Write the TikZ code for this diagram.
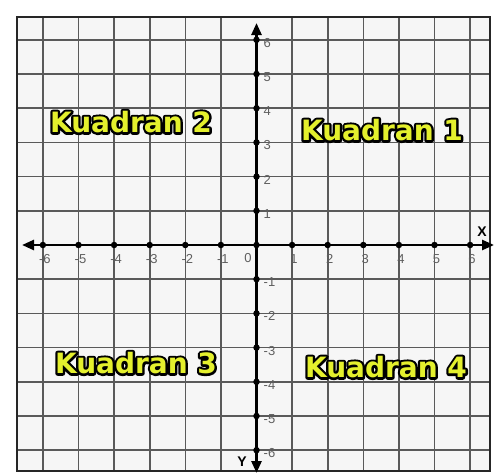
\documentclass[tikz,border=0pt]{standalone}
\usepackage{fontspec}
\setmainfont{Liberation Sans}
\newfontfamily\quadfont{DejaVu Sans}
\usetikzlibrary{arrows.meta}
\definecolor{gridgray}{RGB}{90,90,90}
\definecolor{labelgray}{RGB}{95,95,95}
\definecolor{qyellow}{RGB}{228,240,45}
\definecolor{paper}{RGB}{246,246,246}
\tikzset{
  gridline/.style={draw=gridgray, line width=1.6pt},
  framebox/.style={draw=black!85, line width=2.4pt},
  axisline/.style={draw=black, line width=2.6pt,
    {Triangle[length=12pt,width=10pt]}-{Triangle[length=12pt,width=10pt]}},
  tickdot/.style={circle, fill=black, inner sep=0pt, minimum size=6.5pt},
  numlbl/.style={text=labelgray, font=\fontsize{13}{13}\selectfont, inner sep=0pt},
  axlbl/.style={text=black, font=\bfseries\fontsize{14}{14}\selectfont, inner sep=0pt},
  qtext/.style={font=\quadfont\bfseries\fontsize{28}{28}\selectfont, inner sep=0pt},
}
% black outline underneath (fill + wide stroke), yellow text on top
\newcommand\quadlabel[3]{%
  \node[qtext, text=black] (#1o) at (#2)
    {\special{pdf:literal direct 0 0 0 RG 4.6 w 1 j 2 Tr}#3\special{pdf:literal direct 0 Tr}};
  \node[qtext, text=qyellow] (#1) at (#2) {#3};
}
\begin{document}
\begin{tikzpicture}[x=1pt,y=-1pt]
\useasboundingbox (0,0) rectangle (500,475);
\fill[white] (0,0) rectangle (500,475);
\fill[paper] (17,17) rectangle (490,471);
\def\ox{256.5}\def\ux{35.6}\def\oy{245}\def\uy{34.2}
% grid
\foreach \k in {-6,...,-1,1,2,...,6}{
  \draw[gridline] (\ox+\k*\ux,17) -- (\ox+\k*\ux,471);
  \draw[gridline] (17,\oy+\k*\uy) -- (490,\oy+\k*\uy);
}
\draw[framebox] (17,17) rectangle (490,471);
% axes
\coordinate (xleft) at (22,\oy);
\coordinate (xright) at (494,\oy);
\coordinate (ytop) at (\ox,23);
\coordinate (ybot) at (\ox,473);
\draw[axisline] (xleft) -- (xright);
\draw[axisline] (ytop) -- (ybot);
% ticks and labels
\foreach \i in {0,...,12}{
  \pgfmathtruncatemacro\k{\i-6}
  \ifnum\k=0\relax
    \node[tickdot] (org) at (\ox,\oy) {};
  \else
    \node[tickdot] (xt\i) at (\ox+\k*\ux,\oy) {};
    \node[tickdot] (yt\i) at (\ox,\oy-\k*\uy) {};
    \node[numlbl] (xn\i) at (\ox+\k*\ux+2,\oy+14) {\k};
    \node[numlbl, anchor=west] (yn\i) at (\ox+7,\oy-\k*\uy+3) {\k};
  \fi
}
\node[numlbl] (zero) at (248,258) {0};
\node[axlbl] (xname) at (482,232) {X};
\node[axlbl] (yname) at (242,462) {Y};
% quadrant labels
\quadlabel{qb}{131,122}{Kuadran 2}
\quadlabel{qa}{382,130}{Kuadran 1}
\quadlabel{qc}{136,363}{Kuadran 3}
\quadlabel{qd}{386,367}{Kuadran 4}
\end{tikzpicture}
\end{document}
